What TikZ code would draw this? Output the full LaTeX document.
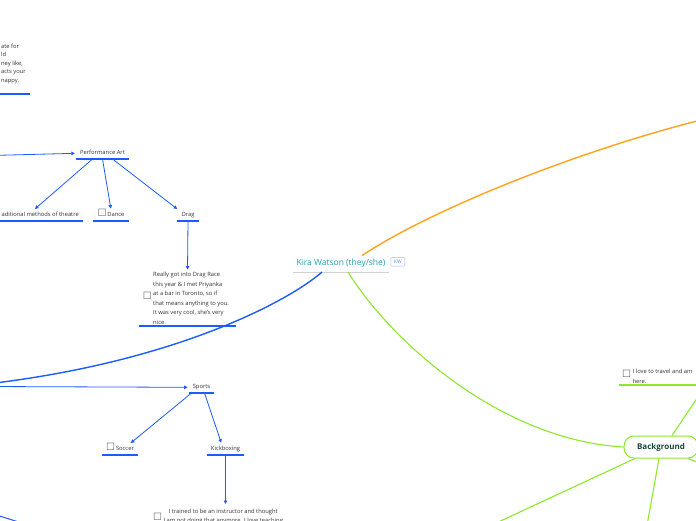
\documentclass[tikz,border=0pt]{standalone}
\usepackage{fontspec}
\setmainfont{Open Sans}
\newfontfamily\boxfont{DejaVu Sans}
\usetikzlibrary{positioning, arrows.meta}

\definecolor{mmblue}{RGB}{28,92,255}
\definecolor{mmorange}{RGB}{255,163,26}
\definecolor{mmgreen}{RGB}{140,232,40}
\definecolor{mmteal}{RGB}{38,160,176}
\definecolor{mmdark}{RGB}{51,51,51}
\definecolor{bgtext}{RGB}{24,72,56}
\newcommand{\chk}{{\color{black!60}\fontsize{10}{10}\boxfont ☐}}

\begin{document}
\begin{tikzpicture}[
  x=1pt, y=-1pt,
  idea/.style={anchor=south, font=\fontsize{5.8}{9.5}\selectfont, text=mmdark,
               text height=4.5pt, text depth=1.5pt, inner xsep=4pt, inner ysep=2.5pt,
               append after command={(\tikzlastnode.south west)
                 edge[draw=#1, line width=1.2pt] (\tikzlastnode.south east)}},
  idea/.default=mmblue,
  note/.style={idea=#1, text height=, text depth=, inner ysep=1.5pt, align=left},
  note/.default=mmblue,
  central/.style={anchor=south, font=\fontsize{8.5}{10}\selectfont, text=mmteal,
                  text height=6pt, text depth=2pt, inner xsep=3pt, inner ysep=4pt,
                  append after command={(\tikzlastnode.south west)
                    edge[draw=gray!35, line width=1pt] (\tikzlastnode.south east)}},
  badge/.style={draw=mmblue!45, rounded corners=1pt, font=\fontsize{5}{5}\selectfont,
                text=mmblue!70, inner sep=1pt, minimum width=14pt, minimum height=8.5pt},
  topic/.style={draw=mmgreen, line width=1pt, fill=white, rounded corners=10pt,
                minimum width=74pt, minimum height=22pt,
                font=\fontsize{8}{9}\selectfont\bfseries, text=bgtext},
  arr/.style={-{Triangle[length=3.5pt, width=3.5pt]}, draw=mmblue, line width=0.8pt, shorten >=1pt},
  branch/.style={line width=1.4pt},
  twig/.style={draw=mmgreen, line width=1.1pt}
]
  \fill[white] (0,0) rectangle (696,520);
  \useasboundingbox (0,0) rectangle (696,520);

  \node[idea, anchor=south east, align=left, font=\fontsize{5.8}{8.5}\selectfont,
        text height=, text depth=, inner ysep=10pt] (frag) at (30,94)
        {ate for\\ld\\ney like,\\acts your\\nappy.};

  \node[idea]                    (perf)   at (102.5,159) {Performance Art};
  \node[idea, anchor=south east] (trad)   at (83,221)    {aditional methods of theatre};
  \node[idea]                    (dance)  at (111,221)   {\chk\,Dance};
  \node[idea]                    (drag)   at (188,221)   {Drag};
  \node[note]                    (dragnote) at (187.5,326)
        {\chk\hspace{1.5pt}\parbox[c]{79pt}{Really got into Drag Race\\this year \& I met Priyanka\\at a bar in Toronto, so if\\that means anything to you.\\It was very cool, she's very\\nice.}};

  \node[idea]                    (sports) at (201.5,393) {Sports};
  \node[idea]                    (soccer) at (120,455)   {\chk\,Soccer};
  \node[idea]                    (kick)   at (225.5,455) {Kickboxing};
  \node[note, anchor=north]      (kicknote) at (218,505)
        {\raisebox{-7pt}{\chk}\hspace{1.5pt}\begin{tabular}[t]{@{}c@{}}I trained to be an instructor and thought\\I am not doing that anymore. I love teaching\end{tabular}};

  \node[central] (kira) at (341,272) {Kira Watson (they/she)};
  \node[badge, right=2pt of kira.east, yshift=2pt] (kw) {KW};

  \node[topic] (bg) at (661,447) {Background};
  \node[note=mmgreen, anchor=south west, inner xsep=3pt] (travel) at (619,385)
        {\chk\hspace{1.5pt}\parbox[c]{70pt}{I love to travel and am\\here.}};

  \coordinate (perfIn)    at (-10,155.5);
  \coordinate (sportsIn)  at (-10,386.5);
  \coordinate (blueEnd)   at (-5,383);
  \coordinate (orangeEnd) at (705,119);
  \coordinate (bgNE)      at (705,386.5);
  \coordinate (bgSW)      at (479,531);
  \coordinate (bgS)       at (646,531);
  \coordinate (bgSE)      at (712,468);
  \coordinate (blA)       at (-10,513);
  \coordinate (blB)       at (25,524);

  \draw[branch, mmblue] ([xshift=-19pt]kira.south) .. controls (290,300) and (180,360) .. (blueEnd);
  \draw[branch, mmorange] ([xshift=21pt]kira.north) .. controls (430,210) and (580,150) .. (orangeEnd);
  \draw[twig] ([xshift=7pt]kira.south) .. controls (390,340) and (500,440) .. (bg.west);
  \draw[mmblue, line width=1pt] (blA) -- (blB);

  \draw[arr] (perfIn) -- (perf.west);
  \draw[arr] ([xshift=-10pt]perf.south) -- ([xshift=-6pt]trad.north);
  \draw[arr] (perf.south) -- (dance.north);
  \draw[arr] ([xshift=10pt]perf.south) -- ([xshift=-10pt]drag.north);
  \draw[arr] (drag.south) -- (dragnote.north);

  \draw[arr] (sportsIn) -- (sports.west);
  \draw[arr] ([xshift=-10pt]sports.south) -- ([xshift=10pt]soccer.north);
  \draw[arr] ([xshift=3pt]sports.south) -- ([xshift=-4pt]kick.north);
  \draw[arr] (kick.south) -- (kick.south |- kicknote.north);

  \draw[twig] ([xshift=11pt]bg.north) -- (bgNE);
  \draw[twig] ([xshift=-26pt]bg.south) -- (bgSW);
  \draw[twig] ([xshift=-2pt]bg.south) -- (bgS);
  \draw[twig] ([xshift=27pt]bg.south) -- (bgSE);
\end{tikzpicture}
\end{document}
